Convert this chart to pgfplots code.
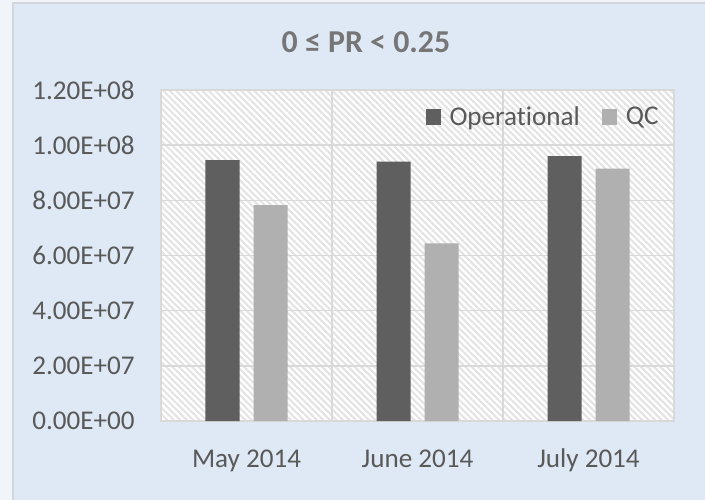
\documentclass[border=0pt]{standalone}
\usepackage{fontspec}
\setmainfont{Carlito}[Ligatures={NoCommon}]
\usepackage{pgfplots}
\pgfplotsset{compat=1.18}
\usetikzlibrary{patterns.meta}
\definecolor{chartbg}{HTML}{DEE9F5}
\definecolor{stripcol}{HTML}{F1F4F9}
\definecolor{bordercol}{HTML}{D3D7DC}
\definecolor{gridcol}{HTML}{D9D9D9}
\definecolor{hatchcol}{HTML}{E3E3E3}
\definecolor{labelcol}{HTML}{595959}
\definecolor{titlecol}{HTML}{767676}
\definecolor{opcol}{HTML}{5F5F5F}
\definecolor{qccol}{HTML}{B0B0B0}
\begin{document}
\begin{tikzpicture}
% chart frame
\useasboundingbox (-80.5bp,-39.5bp) rectangle (272bp,210.5bp);
\fill[stripcol] (-80.5bp,-39.5bp) rectangle (272bp,210.5bp);
\fill[chartbg] (-74bp,-39.5bp) rectangle (272bp,209bp);
\draw[bordercol, line width=1bp] (-74bp,-39.5bp) -- (-74bp,209bp) -- (272bp,209bp);
\node[font=\bfseries\fontsize{16}{18}\selectfont, text=titlecol] at (102.5bp,189.5bp) {0 ≤ PR < 0.25};
\begin{axis}[
    scale only axis,
    width=256.5bp, height=165.5bp,
    xmin=-0.5, xmax=2.5,
    ymin=0, ymax=1.2e8,
    ybar=7bp, bar width=17bp,
    xtick={0,1,2},
    xticklabels={May 2014, June 2014, July 2014},
    ytick={0,2e7,4e7,6e7,8e7,1e8,1.2e8},
    yticklabels={0.00E+00,2.00E+07,4.00E+07,6.00E+07,8.00E+07,1.00E+08,1.20E+08},
    scaled y ticks=false,
    ymajorgrids,
    grid style={gridcol, line width=0.75bp},
    extra x ticks={0.5,1.5},
    extra x tick labels={},
    extra x tick style={grid=major},
    major tick length=0pt,
    axis line style={gridcol, line width=0.75bp},
    axis background/.style={fill=white, postaction={pattern={Lines[angle=-45,distance=2.3bp,line width=1bp]}, pattern color=hatchcol}},
    tick label style={font=\fontsize{13.6}{15}\selectfont, text=labelcol},
    yticklabel style={anchor=east, inner sep=0pt, xshift=-13bp},
    xticklabel style={anchor=base, inner sep=0pt, yshift=-23bp},
    legend style={at={(0.99,0.918)}, anchor=east, draw=none, fill=none,
        font=\fontsize{13.6}{15}\selectfont, text=labelcol,
        /tikz/every even column/.append style={column sep=9bp}},
    legend columns=2,
    legend image code/.code={\fill[#1] (0bp,-3.9bp) rectangle (7.8bp,3.9bp); \path (0bp,0bp) -- (10bp,0bp);},
]
\addplot[fill=opcol, draw=none] coordinates {(0,9.46e7) (1,9.40e7) (2,9.60e7)};
\addlegendentry{Operational}
\addplot[fill=qccol, draw=none] coordinates {(0,7.83e7) (1,6.44e7) (2,9.15e7)};
\addlegendentry{QC}
\end{axis}
\end{tikzpicture}
\end{document}
